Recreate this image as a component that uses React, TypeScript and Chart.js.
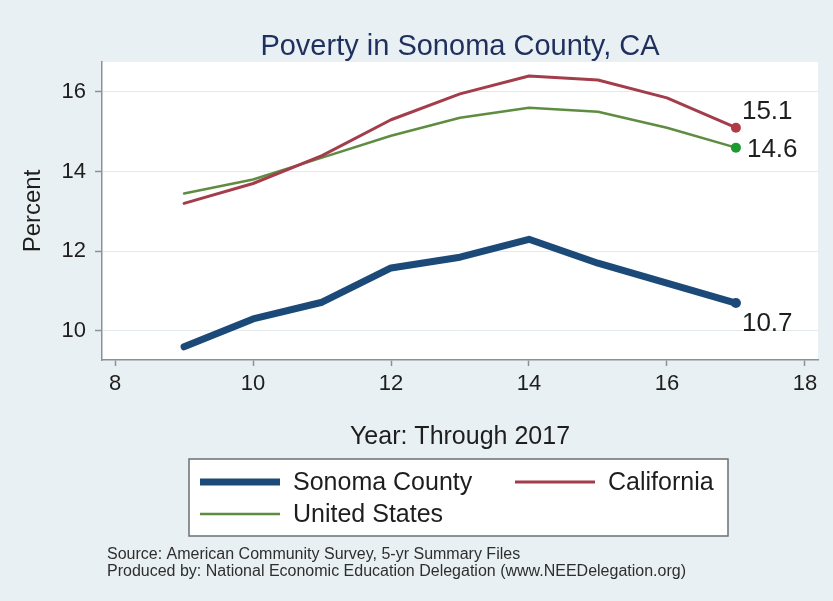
import React, { useEffect, useRef } from 'react';
import { Chart, registerables } from 'chart.js';

Chart.register(...registerables);

// ---- data ----
const years = [9, 10, 11, 12, 13, 14, 15, 16, 17];
const sonoma = [9.6, 10.3, 10.72, 11.58, 11.85, 12.3, 11.7, 11.2, 10.7];
const california = [13.2, 13.7, 14.4, 15.3, 15.95, 16.4, 16.3, 15.85, 15.1];
const unitedStates = [13.45, 13.8, 14.35, 14.9, 15.35, 15.6, 15.5, 15.1, 14.6];
const seriesNames = ['Sonoma County', 'California', 'United States'];
const xTicks = [8, 10, 12, 14, 16, 18];
const yTicks = [10, 12, 14, 16];
const titleText = 'Poverty in Sonoma County, CA';
const xTitle = 'Year: Through 2017';
const yTitle = 'Percent';
const sourceLines = [
  'Source: American Community Survey, 5-yr Summary Files',
  'Produced by: National Economic Education Delegation (www.NEEDelegation.org)',
];

const FONT = "'Liberation Sans', Arial, Helvetica, sans-serif";
const BG = '#e9f0f3';
const AXIS = '#8c9196';
const TEXT = '#1e1e1e';

const lineColors = ['#1c4a78', '#a33d4c', '#5e8c40'];
const dotColors = ['#1c4a78', '#b13a49', '#1f9a30'];
const lineWidths = [7, 3, 2.5];
// label offsets relative to last point (dx, dy)
const labelOffsets = [
  [6, 21],
  [6, -16],
  [11, 2],
];

const bgPlugin = {
  id: 'bgPlugin',
  beforeDraw(chart: any) {
    const { ctx, chartArea } = chart;
    ctx.save();
    ctx.fillStyle = BG;
    ctx.fillRect(0, 0, chart.width, chart.height);
    ctx.fillStyle = '#ffffff';
    ctx.fillRect(chartArea.left, chartArea.top, chartArea.right - chartArea.left, chartArea.bottom - chartArea.top);
    ctx.restore();
  },
};

const endLabelPlugin = {
  id: 'endLabelPlugin',
  afterDatasetsDraw(chart: any) {
    const { ctx } = chart;
    const xs = chart.scales.x;
    const ys = chart.scales.y;
    ctx.save();
    ctx.font = `26px ${FONT}`;
    ctx.fillStyle = TEXT;
    ctx.textAlign = 'left';
    ctx.textBaseline = 'middle';
    chart.data.datasets.forEach((ds: any, i: number) => {
      const last = ds.data[ds.data.length - 1];
      const px = xs.getPixelForValue(last.x);
      const py = ys.getPixelForValue(last.y);
      ctx.fillText(last.y.toFixed(1), px + labelOffsets[i][0], py + labelOffsets[i][1]);
    });
    ctx.restore();
  },
};

const legendPlugin = {
  id: 'boxLegend',
  afterDraw(chart: any) {
    const { ctx } = chart;
    ctx.save();
    const bx = 189, by = 459, bw = 539, bh = 77;
    ctx.fillStyle = '#ffffff';
    ctx.fillRect(bx, by, bw, bh);
    ctx.strokeStyle = '#6b6f73';
    ctx.lineWidth = 1.5;
    ctx.strokeRect(bx, by, bw, bh);
    const cols = [200, 515];
    const rows = [483, 515];
    ctx.font = `25px ${FONT}`;
    ctx.textBaseline = 'middle';
    ctx.textAlign = 'left';
    chart.data.datasets.forEach((ds: any, i: number) => {
      const x = cols[i % 2];
      const y = rows[Math.floor(i / 2)];
      ctx.strokeStyle = ds.borderColor;
      ctx.lineWidth = ds.borderWidth;
      ctx.lineCap = 'butt';
      ctx.beginPath();
      ctx.moveTo(x, y - 1);
      ctx.lineTo(x + 80, y - 1);
      ctx.stroke();
      ctx.fillStyle = TEXT;
      ctx.fillText(ds.label, x + 93, y);
    });
    ctx.font = `16px ${FONT}`;
    ctx.fillStyle = '#2e2e2e';
    sourceLines.forEach((s, i) => ctx.fillText(s, 107, 555 + i * 17));
    ctx.restore();
  },
};

export default function App() {
  const ref = useRef<HTMLCanvasElement | null>(null);
  useEffect(() => {
    if (!ref.current) return;
    const seriesValues = [sonoma, california, unitedStates];
    const chart = new Chart(ref.current, {
      type: 'line',
      data: {
        datasets: seriesValues.map((vals, i) => ({
          label: seriesNames[i],
          data: years.map((x, j) => ({ x, y: vals[j] })),
          borderColor: lineColors[i],
          backgroundColor: lineColors[i],
          borderWidth: lineWidths[i],
          borderCapStyle: 'round',
          borderJoinStyle: 'round',
          tension: 0,
          fill: false,
          pointRadius: (c: any) => (c.dataIndex === years.length - 1 ? 5 : 0),
          pointBackgroundColor: dotColors[i],
          pointBorderWidth: 0,
        })) as any,
      },
      options: {
        responsive: false,
        animation: false,
        events: [],
        layout: { padding: { left: 0, right: 15, top: 0, bottom: 141 } },
        plugins: {
          legend: { display: false },
          tooltip: { enabled: false },
          title: {
            display: true,
            text: titleText,
            color: '#1f2f5e',
            fullSize: false,
            font: { family: FONT, size: 29, weight: 'normal', lineHeight: '30px' as any },
            padding: { top: 32, bottom: 0 },
          },
        },
        scales: {
          x: {
            type: 'linear',
            min: 7.81,
            max: 18.19,
            afterBuildTicks: (s: any) => {
              s.ticks = xTicks.map((v) => ({ value: v }));
            },
            afterFit: (s: any) => {
              s.height = 100;
            },
            grid: { drawOnChartArea: false, drawTicks: true, tickLength: 6, tickColor: AXIS, tickWidth: 1.5 },
            border: { display: true, color: AXIS, width: 1.5 },
            ticks: { color: TEXT, font: { family: FONT, size: 22 }, padding: 5, maxRotation: 0, autoSkip: false },
            title: { display: true, text: xTitle, color: TEXT, font: { family: FONT, size: 25, lineHeight: '30px' as any }, padding: { top: 0, bottom: 8 } },
          },
          y: {
            type: 'linear',
            min: 9.27,
            max: 16.75,
            afterBuildTicks: (s: any) => {
              s.ticks = yTicks.map((v) => ({ value: v }));
            },
            afterFit: (s: any) => {
              s.width = 102;
            },
            grid: { color: '#e3eaed', lineWidth: 1, drawTicks: true, tickLength: 7, tickColor: AXIS, tickWidth: 1.5 },
            border: { display: true, color: AXIS, width: 1.5 },
            ticks: { color: TEXT, font: { family: FONT, size: 22 }, padding: 9 },
            title: { display: true, text: yTitle, color: TEXT, font: { family: FONT, size: 24, lineHeight: '28px' as any }, padding: { top: 19, bottom: 0 } },
          },
        },
      },
      plugins: [bgPlugin, endLabelPlugin, legendPlugin],
    });
    return () => chart.destroy();
  }, []);
  return (
    <div style={{ position: 'absolute', left: 0, top: 0, width: 833, height: 601 }}>
      <canvas ref={ref} width={833} height={601} />
    </div>
  );
}
